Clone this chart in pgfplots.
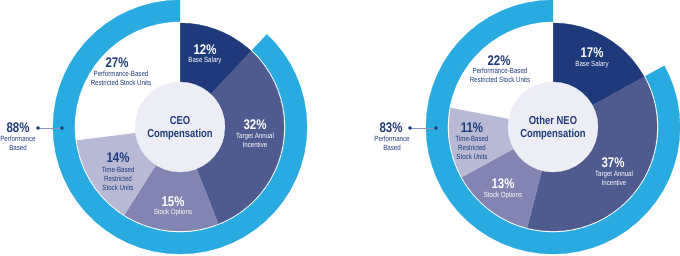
\documentclass[border=0pt]{standalone}
\usepackage{pgfplots}
\pgfplotsset{compat=1.18}
\usepackage{fontspec}
\setmainfont{Liberation Sans}[FakeStretch=0.82]
\definecolor{ringc}{HTML}{29ABE2}
\definecolor{navy}{HTML}{1E3A7B}
\definecolor{targetc}{HTML}{4F5B8F}
\definecolor{stockc}{HTML}{8285B1}
\definecolor{timec}{HTML}{B8B9D5}
\definecolor{holec}{HTML}{EDEEF5}
\definecolor{leaderc}{HTML}{8A92BC}
\tikzset{
  pct/.style={font=\fontsize{14}{14}\selectfont\bfseries, inner sep=0pt},
  lab/.style={font=\fontsize{7.5}{9}\selectfont, align=center, inner sep=0pt},
  ctr/.style={font=\fontsize{11.5}{12.5}\selectfont\bfseries, align=center, inner sep=0pt, text=navy},
}
\pgfplotsset{
  pieaxis/.style={width=680pt, height=255pt, scale only axis, hide axis, clip=false,
    ymin=-128, ymax=127, at={(0,0)}, anchor=south west},
  slice/.style={data cs=polar, fill=#1, draw=#1, line width=0.3pt},
}
\begin{document}
\begin{tikzpicture}
\useasboundingbox (0,0) rectangle (680pt,255pt);
% ---------------- CEO ----------------
\begin{axis}[pieaxis, xmin=-180, xmax=500]
% outer ring: 88% performance based
\addplot[slice=ringc] coordinates {(90,127) (96,127) (102,127) (108,127) (114,127) (120,127) (126,127) (132,127) (138,127) (144,127) (150,127) (156,127) (162,127) (168,127) (174,127) (180,127) (186,127) (192,127) (198,127) (204,127) (210,127) (216,127) (222,127) (228,127) (234,127) (240,127) (246,127) (252,127) (258,127) (264,127) (270,127) (276,127) (282,127) (288,127) (294,127) (300,127) (306,127) (312,127) (318,127) (324,127) (330,127) (336,127) (342,127) (348,127) (354,127) (360,127) (366,127) (372,127) (378,127) (384,127) (390,127) (396,127) (402,127) (406.8,127)
(406.8,105.5) (402,105.5) (396,105.5) (390,105.5) (384,105.5) (378,105.5) (372,105.5) (366,105.5) (360,105.5) (354,105.5) (348,105.5) (342,105.5) (336,105.5) (330,105.5) (324,105.5) (318,105.5) (312,105.5) (306,105.5) (300,105.5) (294,105.5) (288,105.5) (282,105.5) (276,105.5) (270,105.5) (264,105.5) (258,105.5) (252,105.5) (246,105.5) (240,105.5) (234,105.5) (228,105.5) (222,105.5) (216,105.5) (210,105.5) (204,105.5) (198,105.5) (192,105.5) (186,105.5) (180,105.5) (174,105.5) (168,105.5) (162,105.5) (156,105.5) (150,105.5) (144,105.5) (138,105.5) (132,105.5) (126,105.5) (120,105.5) (114,105.5) (108,105.5) (102,105.5) (96,105.5) (90,105.5)};
% Base Salary 12%
\addplot[slice=navy] coordinates {(0,0) (90,104) (85,104) (80,104) (75,104) (70,104) (65,104) (60,104) (55,104) (50,104) (46.8,104)};
% Target Annual Incentive 32%
\addplot[slice=targetc] coordinates {(0,0) (46.8,104) (45,104) (40,104) (35,104) (30,104) (25,104) (20,104) (15,104) (10,104) (5,104) (0,104) (-5,104) (-10,104) (-15,104) (-20,104) (-25,104) (-30,104) (-35,104) (-40,104) (-45,104) (-50,104) (-55,104) (-60,104) (-65,104) (-68.4,104)};
% Stock Options 15%
\addplot[slice=stockc] coordinates {(0,0) (-68.4,104) (-70,104) (-75,104) (-80,104) (-85,104) (-90,104) (-95,104) (-100,104) (-105,104) (-110,104) (-115,104) (-120,104) (-122.4,104)};
% Time-Based RSU 14%
\addplot[slice=timec] coordinates {(0,0) (-122.4,104) (-125,104) (-130,104) (-135,104) (-140,104) (-145,104) (-150,104) (-155,104) (-160,104) (-165,104) (-170,104) (-172.8,104)};
% Performance-Based RSU 27%
\addplot[slice=white] coordinates {(0,0) (-172.8,104) (-175,104) (-180,104) (-185,104) (-190,104) (-195,104) (-200,104) (-205,104) (-210,104) (-215,104) (-220,104) (-225,104) (-230,104) (-235,104) (-240,104) (-245,104) (-250,104) (-255,104) (-260,104) (-265,104) (-270,104)};
% centre disc
\addplot[slice=holec] coordinates {(0,45) (10,45) (20,45) (30,45) (40,45) (50,45) (60,45) (70,45) (80,45) (90,45) (100,45) (110,45) (120,45) (130,45) (140,45) (150,45) (160,45) (170,45) (180,45) (190,45) (200,45) (210,45) (220,45) (230,45) (240,45) (250,45) (260,45) (270,45) (280,45) (290,45) (300,45) (310,45) (320,45) (330,45) (340,45) (350,45)};
% leader
\addplot[leaderc, line width=0.7pt] coordinates {(-142,-1) (-118,-1)};
\addplot[navy, only marks, mark=*, mark size=1.7pt] coordinates {(-142,-1) (-118,-1)};
% labels
\node[pct, text=white] at (axis cs:25,77) {12\%};
\node[lab, text=white] at (axis cs:25,66) {Base Salary};
\node[pct, text=navy] at (axis cs:-63,64) {27\%};
\node[lab, text=navy] at (axis cs:-59,48.5) {Performance-Based\\Restricted Stock Units};
\node[ctr] at (axis cs:0,-1) {CEO\\Compensation};
\node[pct, text=white] at (axis cs:75,2) {32\%};
\node[lab, text=white] at (axis cs:75,-13.5) {Target Annual\\Incentive};
\node[pct, text=white] at (axis cs:-7,-75) {15\%};
\node[lab, text=white] at (axis cs:-7,-86) {Stock Options};
\node[pct, text=navy] at (axis cs:-62,-31) {14\%};
\node[lab, text=navy] at (axis cs:-62,-52) {Time-Based\\Restricted\\Stock Units};
\node[pct, text=navy] at (axis cs:-162,-1) {88\%};
\node[lab, text=navy] at (axis cs:-162,-16.5) {Performance\\Based};
\end{axis}
% ---------------- Other NEO ----------------
\begin{axis}[pieaxis, xmin=-553, xmax=127]
% outer ring: 83% performance based
\addplot[slice=ringc] coordinates {(90,127) (96,127) (102,127) (108,127) (114,127) (120,127) (126,127) (132,127) (138,127) (144,127) (150,127) (156,127) (162,127) (168,127) (174,127) (180,127) (186,127) (192,127) (198,127) (204,127) (210,127) (216,127) (222,127) (228,127) (234,127) (240,127) (246,127) (252,127) (258,127) (264,127) (270,127) (276,127) (282,127) (288,127) (294,127) (300,127) (306,127) (312,127) (318,127) (324,127) (330,127) (336,127) (342,127) (348,127) (354,127) (360,127) (366,127) (372,127) (378,127) (384,127) (388.8,127)
(388.8,105.5) (384,105.5) (378,105.5) (372,105.5) (366,105.5) (360,105.5) (354,105.5) (348,105.5) (342,105.5) (336,105.5) (330,105.5) (324,105.5) (318,105.5) (312,105.5) (306,105.5) (300,105.5) (294,105.5) (288,105.5) (282,105.5) (276,105.5) (270,105.5) (264,105.5) (258,105.5) (252,105.5) (246,105.5) (240,105.5) (234,105.5) (228,105.5) (222,105.5) (216,105.5) (210,105.5) (204,105.5) (198,105.5) (192,105.5) (186,105.5) (180,105.5) (174,105.5) (168,105.5) (162,105.5) (156,105.5) (150,105.5) (144,105.5) (138,105.5) (132,105.5) (126,105.5) (120,105.5) (114,105.5) (108,105.5) (102,105.5) (96,105.5) (90,105.5)};
% Base Salary 17%
\addplot[slice=navy] coordinates {(0,0) (90,104) (85,104) (80,104) (75,104) (70,104) (65,104) (60,104) (55,104) (50,104) (45,104) (40,104) (35,104) (30,104) (28.8,104)};
% Target Annual Incentive 37%
\addplot[slice=targetc] coordinates {(0,0) (28.8,104) (25,104) (20,104) (15,104) (10,104) (5,104) (0,104) (-5,104) (-10,104) (-15,104) (-20,104) (-25,104) (-30,104) (-35,104) (-40,104) (-45,104) (-50,104) (-55,104) (-60,104) (-65,104) (-70,104) (-75,104) (-80,104) (-85,104) (-90,104) (-95,104) (-100,104) (-104.4,104)};
% Stock Options 13%
\addplot[slice=stockc] coordinates {(0,0) (-104.4,104) (-105,104) (-110,104) (-115,104) (-120,104) (-125,104) (-130,104) (-135,104) (-140,104) (-145,104) (-150,104) (-151.2,104)};
% Time-Based RSU 11%
\addplot[slice=timec] coordinates {(0,0) (-151.2,104) (-155,104) (-160,104) (-165,104) (-170,104) (-175,104) (-180,104) (-185,104) (-190,104) (-190.8,104)};
% Performance-Based RSU 22%
\addplot[slice=white] coordinates {(0,0) (-190.8,104) (-195,104) (-200,104) (-205,104) (-210,104) (-215,104) (-220,104) (-225,104) (-230,104) (-235,104) (-240,104) (-245,104) (-250,104) (-255,104) (-260,104) (-265,104) (-270,104)};
% centre disc
\addplot[slice=holec] coordinates {(0,45) (10,45) (20,45) (30,45) (40,45) (50,45) (60,45) (70,45) (80,45) (90,45) (100,45) (110,45) (120,45) (130,45) (140,45) (150,45) (160,45) (170,45) (180,45) (190,45) (200,45) (210,45) (220,45) (230,45) (240,45) (250,45) (260,45) (270,45) (280,45) (290,45) (300,45) (310,45) (320,45) (330,45) (340,45) (350,45)};
% leader
\addplot[leaderc, line width=0.7pt] coordinates {(-143,-1) (-117,-1)};
\addplot[navy, only marks, mark=*, mark size=1.7pt] coordinates {(-143,-1) (-117,-1)};
% labels
\node[pct, text=white] at (axis cs:39,74) {17\%};
\node[lab, text=white] at (axis cs:39,62) {Base Salary};
\node[pct, text=navy] at (axis cs:-54,66) {22\%};
\node[lab, text=navy] at (axis cs:-53,51.5) {Performance-Based\\Restricted Stock Units};
\node[ctr] at (axis cs:0,-1) {Other NEO\\Compensation};
\node[pct, text=white] at (axis cs:60,-36) {37\%};
\node[lab, text=white] at (axis cs:61,-51) {Target Annual\\Incentive};
\node[pct, text=white] at (axis cs:-50,-57) {13\%};
\node[lab, text=white] at (axis cs:-50,-69) {Stock Options};
\node[pct, text=navy] at (axis cs:-81,-1) {11\%};
\node[lab, text=navy] at (axis cs:-81,-21) {Time-Based\\Restricted\\Stock Units};
\node[pct, text=navy] at (axis cs:-162,-1) {83\%};
\node[lab, text=navy] at (axis cs:-161,-16.5) {Performance\\Based};
\end{axis}
\end{tikzpicture}
\end{document}
